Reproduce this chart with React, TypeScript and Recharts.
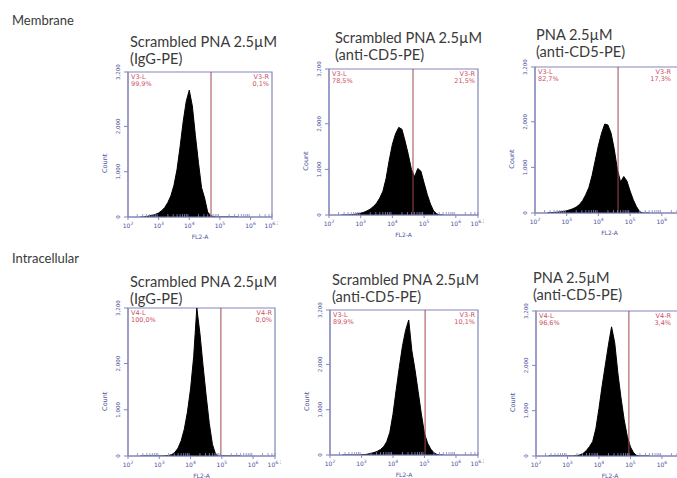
import React from 'react';
import { AreaChart, Area, XAxis, YAxis, ReferenceLine, ReferenceArea } from 'recharts';

// FL2-A bin centres, log10 units
const bins = [
  2.4, 2.5, 2.6, 2.7, 2.8, 2.9, 3.0, 3.1, 3.2, 3.3, 3.4, 3.5, 3.6, 3.7, 3.8, 3.9, 4.0,
  4.1, 4.2, 4.3, 4.4, 4.5, 4.6, 4.7, 4.8, 4.9, 5.0, 5.1, 5.2, 5.3, 5.4, 5.5, 5.6,
];

// event counts per bin
const memScrIgG = [
  0, 0, 10, 25, 40, 60, 90, 140, 210, 320, 470, 700, 1050, 1550, 2100, 2550, 2800,
  2450, 1800, 1200, 650, 420, 110, 30, 5, 0, 0, 0, 0, 0, 0, 0, 0,
];
const memScrCD5 = [
  0, 0, 0, 5, 15, 25, 40, 60, 90, 130, 185, 260, 370, 520, 800, 1200, 1550,
  1780, 1920, 1880, 1620, 1330, 1000, 840, 1020, 960, 700, 450, 240, 90, 25, 0, 0,
];
const memPnaCD5 = [
  5, 8, 12, 18, 25, 35, 50, 70, 95, 130, 185, 270, 400, 560, 820, 1150, 1480,
  1750, 1950, 1930, 1750, 1400, 950, 680, 800, 700, 480, 290, 140, 30, 0, 0, 0,
];
const intScrIgG = [
  0, 0, 0, 0, 0, 0, 0, 0, 5, 10, 30, 80, 170, 330, 580, 950, 1450,
  2150, 3200, 2650, 1950, 1300, 700, 250, 40, 0, 0, 0, 0, 0, 0, 0, 0,
];
const intScrCD5 = [
  0, 0, 0, 0, 0, 0, 5, 10, 20, 35, 55, 80, 120, 180, 290, 500, 900,
  1430, 1930, 2400, 2750, 2980, 2300, 1880, 1400, 910, 480, 260, 130, 50, 10, 0, 0,
];
const intPnaCD5 = [
  0, 0, 0, 0, 0, 0, 0, 0, 0, 10, 25, 60, 120, 210, 320, 600, 1050,
  1550, 2000, 2450, 2850, 2500, 1830, 1280, 800, 430, 200, 70, 10, 0, 0, 0, 0,
];

const series = [memScrIgG, memScrCD5, memPnaCD5, intScrIgG, intScrCD5, intPnaCD5];
const titleTop = ['Scrambled PNA 2.5µM', 'Scrambled PNA 2.5µM', 'PNA 2.5µM', 'Scrambled PNA 2.5µM', 'Scrambled PNA 2.5µM', 'PNA 2.5µM'];
const titleBottom = ['(IgG-PE)', '(anti-CD5-PE)', '(anti-CD5-PE)', '(IgG-PE)', '(anti-CD5-PE)', '(anti-CD5-PE)'];
const gates = [4.71, 4.65, 4.62, 4.97, 5.02, 4.95];
const gateNames = ['V3', 'V3', 'V3', 'V4', 'V3', 'V4'];
const leftPct = ['99,9%', '78,5%', '82,7%', '100,0%', '89,9%', '96,6%'];
const rightPct = ['0,1%', '21,5%', '17,3%', '0,0%', '10,1%', '3,4%'];
const sections = ['Membrane', 'Intracellular'];

const majorTicks = [2, 3, 4, 5, 6, 6.7];
const countTicks = [0, 1000, 2000, 3200];
const X_MIN = 2;
const X_MAX = 6.7;
const Y_MAX = 3200;

// log minor ticks between the decades
const minorTicks: number[] = [];
for (let d = 2; d < 7; d++) {
  for (let k = 2; k <= 9; k++) {
    const v = d + Math.log10(k);
    if (v < X_MAX) minorTicks.push(v);
  }
}
const xTicks = [...majorTicks, ...minorTicks].sort((a, b) => a - b);

// plot frames on the page
const frames = [
  { x: 128, y: 72, w: 144, h: 145, tx: 130, ty: 47 },
  { x: 329, y: 69, w: 149, h: 146, tx: 335, ty: 43 },
  { x: 535, y: 67, w: 149, h: 146, tx: 536, ty: 40 },
  { x: 128, y: 308, w: 147, h: 148, tx: 130, ty: 287 },
  { x: 330, y: 310, w: 148, h: 145, tx: 332, ty: 285 },
  { x: 536, y: 311, w: 148, h: 145, tx: 533, ty: 283 },
];

const AXIS = '#8386bb';
const TICK = '#4c509c';
const GATE = '#a04650';
const GATE_TEXT = '#cf4e62';
const TEXT = '#3a3a3a';
const FONT = 'Lato, "Open Sans", sans-serif';
const PAGE_W = 677;

const YL = 44;
const MT = 14;
const MR = 6;
const XB = 30;

const LogTick = (props: any) => {
  const { x, y, payload, maxX } = props;
  const v = payload.value;
  if (!majorTicks.includes(v)) {
    return <line x1={x} x2={x} y1={y} y2={y - 3} stroke={AXIS} strokeWidth={0.8} />;
  }
  const exp = Number.isInteger(v) ? String(v) : v.toFixed(1);
  return (
    <g>
      <line x1={x} x2={x} y1={y} y2={y + 3} stroke={AXIS} />
      {x + 8 <= maxX && (
        <text x={x} y={y + 11} textAnchor="middle" fontSize={6} fill={TICK} fontFamily="DejaVu Sans">
          10<tspan dy={-3} fontSize={4.5}>{exp}</tspan>
        </text>
      )}
    </g>
  );
};

const CountTick = (props: any) => {
  const { x, y, payload } = props;
  const label = payload.value.toLocaleString('en-US');
  return (
    <g>
      <line x1={x - 4} x2={x} y1={y} y2={y} stroke={AXIS} />
      <text
        x={x - 8}
        y={y}
        transform={`rotate(-90 ${x - 8} ${y})`}
        textAnchor="middle"
        fontSize={5.5}
        fill={TICK}
        fontFamily="DejaVu Sans"
      >
        {label}
      </text>
    </g>
  );
};

const Histogram = ({ idx }: { idx: number }) => {
  const f = frames[idx];
  const left = f.x - YL;
  const data = bins.map((b, i) => ({ x: b, count: series[idx][i] }));
  return (
    <div style={{ position: 'absolute', left, top: f.y - MT }}>
      <AreaChart
        width={f.w + YL + MR}
        height={f.h + MT + XB}
        data={data}
        margin={{ top: MT, right: MR, bottom: 0, left: 0 }}
      >
        <XAxis
          dataKey="x"
          type="number"
          domain={[X_MIN, X_MAX]}
          ticks={xTicks}
          interval={0}
          tick={<LogTick maxX={PAGE_W - left - 2} />}
          tickLine={false}
          tickSize={0}
          tickMargin={0}
          height={XB}
          axisLine={{ stroke: AXIS }}
          allowDataOverflow
        />
        <YAxis
          type="number"
          domain={[0, Y_MAX]}
          ticks={countTicks}
          interval={0}
          tick={<CountTick />}
          tickLine={false}
          tickSize={0}
          tickMargin={0}
          width={YL}
          axisLine={{ stroke: AXIS }}
          allowDataOverflow
        />
        <ReferenceArea x1={X_MIN} x2={X_MAX} y1={0} y2={Y_MAX} fill="none" stroke={AXIS} strokeWidth={1.2} />
        <Area
          type="linear"
          dataKey="count"
          stroke="#000"
          strokeWidth={1}
          fill="#000"
          fillOpacity={1}
          isAnimationActive={false}
          dot={false}
          activeDot={false}
        />
        <ReferenceLine x={gates[idx]} stroke={GATE} strokeWidth={1} />
      </AreaChart>
    </div>
  );
};

export default function App() {
  return (
    <div
      style={{
        position: 'absolute',
        left: 0,
        top: 0,
        width: PAGE_W,
        height: 478,
        overflow: 'hidden',
        background: '#fff',
        fontFamily: FONT,
      }}
    >
      {frames.map((_, i) => (
        <Histogram key={i} idx={i} />
      ))}
      <svg width={PAGE_W} height={478} style={{ position: 'absolute', left: 0, top: 0, pointerEvents: 'none' }}>
        <text x={12} y={25} fontSize={13} fill={TEXT} fontFamily={FONT}>{sections[0]}</text>
        <text x={12} y={263} fontSize={13} fill={TEXT} fontFamily={FONT}>{sections[1]}</text>
        {frames.map((f, i) => {
          const rx = Math.min(f.x + f.w - 3, PAGE_W - 6);
          return (
            <g key={i}>
              <text x={f.tx} y={f.ty} fontSize={14.6} fill={TEXT} fontFamily={FONT}>{titleTop[i]}</text>
              <text x={f.tx} y={f.ty + 17} fontSize={14.6} fill={TEXT} fontFamily={FONT}>{titleBottom[i]}</text>
              <text x={f.x + 3} y={f.y + 7} fontSize={6.5} fill={GATE_TEXT} fontFamily="DejaVu Sans">{gateNames[i]}-L</text>
              <text x={f.x + 3} y={f.y + 14} fontSize={6.5} fill={GATE_TEXT} fontFamily="DejaVu Sans">{leftPct[i]}</text>
              <text x={rx} y={f.y + 7} fontSize={6.5} fill={GATE_TEXT} textAnchor="end" fontFamily="DejaVu Sans">{gateNames[i]}-R</text>
              <text x={rx} y={f.y + 14} fontSize={6.5} fill={GATE_TEXT} textAnchor="end" fontFamily="DejaVu Sans">{rightPct[i]}</text>
              <text
                x={f.x - 21}
                y={f.y + f.h * 0.63}
                transform={`rotate(-90 ${f.x - 21} ${f.y + f.h * 0.63})`}
                textAnchor="middle"
                fontSize={6.5}
                fill={TICK}
                fontFamily="DejaVu Sans"
              >
                Count
              </text>
              <text x={f.x + f.w / 2} y={f.y + f.h + 22} textAnchor="middle" fontSize={6} fill={TICK} fontFamily="DejaVu Sans">
                FL2-A
              </text>
            </g>
          );
        })}
      </svg>
    </div>
  );
}
